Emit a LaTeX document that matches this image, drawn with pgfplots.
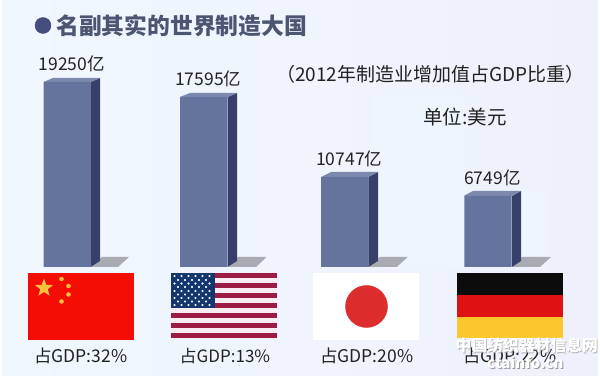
\documentclass[border=0pt]{standalone}
\usepackage{pgfplots}
\usepackage{fontspec}
\pgfplotsset{compat=1.18}
\usetikzlibrary{shapes.geometric}
\setmainfont{Noto Sans CJK SC}
\definecolor{front}{HTML}{64749E}
\definecolor{sidec}{HTML}{36406B}
\definecolor{topc}{HTML}{7C88AC}
\definecolor{shad}{HTML}{A9ABB2}
\definecolor{ttl}{HTML}{4C5672}
\definecolor{usred}{HTML}{9C1C46}
\definecolor{uswhite}{HTML}{F6ECF2}
\definecolor{usblue}{HTML}{12376F}
\definecolor{bgl}{HTML}{F0F7FE}
\definecolor{bgm}{HTML}{EBF5FE}
\definecolor{bgr}{HTML}{EEF1FC}
\definecolor{bgp}{HTML}{EFF5FD}
\definecolor{bullet}{HTML}{434E7E}
\definecolor{txt}{HTML}{222222}
\definecolor{cnred}{HTML}{F30D05}
\definecolor{cnstar}{HTML}{F8C23C}
\definecolor{jpred}{HTML}{DC2C2C}
\definecolor{deblack}{HTML}{0C0C0C}
\definecolor{dered}{HTML}{DE1212}
\definecolor{deyellow}{HTML}{FCC72C}
% bar heights as drawn in the picture (the drawn bars are not to scale with their labels)
\pgfplotstableread[col sep=comma]{
x,h,label
67.2,185,19250亿
203.8,170,17595亿
344.8,90,10747亿
487.9,71,6749亿
}\bars
\begin{document}
\begin{tikzpicture}
\begin{axis}[
  width=600pt,height=377pt,scale only axis,
  xmin=0,xmax=600,ymin=-110,ymax=267,
  hide axis,clip=false,
]
% background
\fill[white] (axis cs:0,-110) rectangle (axis cs:600,267);
\fill[left color=bgl,middle color=bgm,right color=bgr] (axis cs:2,-109) rectangle (axis cs:598,266);
\fill[bgp] (axis cs:372,172) rectangle (axis cs:465,0);
\fill[bgp] (axis cs:515,75) rectangle (axis cs:545,0);
% shadows
\addplot[fill=shad,draw=none] coordinates {(91,0)(102,10)(129,10)(118,0)} -- cycle;
\addplot[fill=shad,draw=none] coordinates {(227.5,0)(238,10)(266.5,10)(256,0)} -- cycle;
\addplot[fill=shad,draw=none] coordinates {(368,0)(380,10)(407.7,10)(396.7,0)} -- cycle;
\addplot[fill=shad,draw=none] coordinates {(512,0)(522,10)(551,10)(540,0)} -- cycle;
% sides
\addplot[fill=sidec,draw=none] coordinates {(90.7,0)(100,6)(100,189)(90.7,185)} -- cycle;
\addplot[fill=sidec,draw=none] coordinates {(227.5,0)(237,6)(237,174)(227.5,170)} -- cycle;
\addplot[fill=sidec,draw=none] coordinates {(368.3,0)(378,6)(378,95)(368.3,90)} -- cycle;
\addplot[fill=sidec,draw=none] coordinates {(512,0)(521,6)(521,76)(512,71)} -- cycle;
% tops
\addplot[fill=topc,draw=none] coordinates {(43.5,185)(53,189)(100,189)(90.7,185)} -- cycle;
\addplot[fill=topc,draw=none] coordinates {(180,170)(190,174)(237,174)(227.5,170)} -- cycle;
\addplot[fill=topc,draw=none] coordinates {(321.3,90)(331,95)(378,95)(368.3,90)} -- cycle;
\addplot[fill=topc,draw=none] coordinates {(463.7,71)(473,76)(521,76)(512,71)} -- cycle;
% bars
\addplot[ybar,bar width=47.3pt,bar shift=0pt,fill=front,draw=none,
  point meta=explicit symbolic,
  nodes near coords,
  every node near coord/.append style={font=\fontsize{17.5}{18}\selectfont,text=txt,anchor=center,xshift=4.5pt,yshift=18pt,inner sep=0pt},
] table[col sep=comma,x=x,y=h,meta=label] {\bars};
% title
\addplot[only marks,mark=*,mark size=8pt,color=bullet] coordinates {(43,241.5)};
\node[anchor=west,inner sep=0pt,text=ttl,font=\fontsize{22.8}{24}\selectfont\bfseries] at (axis cs:56,241) {名副其实的世界制造大国};
\node[anchor=west,inner sep=0pt,text=txt,font=\fontsize{19}{20}\selectfont] at (axis cs:276,193) {（2012年制造业增加值占GDP比重）};
\node[anchor=west,inner sep=0pt,text=txt,font=\fontsize{19.5}{20}\selectfont] at (axis cs:423,150) {单位:美元};
% China flag
\fill[cnred] (axis cs:27.5,-6) rectangle (axis cs:133.5,-73);
\node[star,star points=5,star point ratio=2.4,fill=cnstar,inner sep=0pt,minimum size=19pt] at (axis cs:44,-21) {};
\addplot[only marks,mark=*,mark size=2pt,color=cnstar] coordinates {(61.5,-12)(68.5,-19)(68.5,-27.5)(61.5,-34.5)};
% US flag
\fill[uswhite] (axis cs:171,-6) rectangle (axis cs:276.5,-72);
\fill[usred] (axis cs:171,-6) rectangle (axis cs:276.5,-11);
\fill[usred] (axis cs:171,-16) rectangle (axis cs:276.5,-21);
\fill[usred] (axis cs:171,-26) rectangle (axis cs:276.5,-31);
\fill[usred] (axis cs:171,-36) rectangle (axis cs:276.5,-41);
\fill[usred] (axis cs:171,-46) rectangle (axis cs:276.5,-51);
\fill[usred] (axis cs:171,-56) rectangle (axis cs:276.5,-61);
\fill[usred] (axis cs:171,-66) rectangle (axis cs:276.5,-71);
\fill[usblue] (axis cs:171,-6) rectangle (axis cs:215,-41);
\addplot[only marks,mark=*,mark size=0.9pt,color=white] coordinates {
(174.5,-9)(181.5,-9)(188.5,-9)(195.5,-9)(202.5,-9)(209.5,-9)
(178,-13)(185,-13)(192,-13)(199,-13)(206,-13)
(174.5,-16.5)(181.5,-16.5)(188.5,-16.5)(195.5,-16.5)(202.5,-16.5)(209.5,-16.5)
(178,-20)(185,-20)(192,-20)(199,-20)(206,-20)
(174.5,-24)(181.5,-24)(188.5,-24)(195.5,-24)(202.5,-24)(209.5,-24)
(178,-27.5)(185,-27.5)(192,-27.5)(199,-27.5)(206,-27.5)
(174.5,-31)(181.5,-31)(188.5,-31)(195.5,-31)(202.5,-31)(209.5,-31)
(178,-34.5)(185,-34.5)(192,-34.5)(199,-34.5)(206,-34.5)
(174.5,-38)(181.5,-38)(188.5,-38)(195.5,-38)(202.5,-38)(209.5,-38)};
% Japan flag
\fill[white] (axis cs:313,-6) rectangle (axis cs:419,-73);
\addplot[only marks,mark=*,mark size=21pt,color=jpred] coordinates {(366.5,-39.5)};
% Germany flag
\fill[deblack] (axis cs:456.5,-6) rectangle (axis cs:563,-28);
\fill[dered] (axis cs:456.5,-28) rectangle (axis cs:563,-50);
\fill[deyellow] (axis cs:456.5,-50) rectangle (axis cs:563,-71);
% bottom labels
\node[anchor=west,inner sep=0pt,text=txt,font=\fontsize{17.5}{18}\selectfont] at (axis cs:34,-89) {占GDP:32\%};
\node[anchor=west,inner sep=0pt,text=txt,font=\fontsize{17}{18}\selectfont] at (axis cs:179.5,-89) {占GDP:13\%};
\node[anchor=west,inner sep=0pt,text=txt,font=\fontsize{17.5}{18}\selectfont] at (axis cs:320,-89) {占GDP:20\%};
\node[anchor=west,inner sep=0pt,text=txt,font=\fontsize{17.5}{18}\selectfont] at (axis cs:463,-89) {占GDP:22\%};
% watermark
\node[anchor=west,inner sep=0pt,text=black!30,font=\fontsize{15.8}{16}\selectfont\bfseries] at (axis cs:456.3,-79) {中国纺织器材信息网};
\node[anchor=west,inner sep=0pt,text=white,font=\fontsize{15.8}{16}\selectfont\bfseries] at (axis cs:455.5,-78) {中国纺织器材信息网};
\node[anchor=west,inner sep=0pt,text=black!40,font=\fontsize{15}{16}\selectfont\bfseries] at (axis cs:488,-96) {ctainfo.cn};
\node[anchor=west,inner sep=0pt,text=white,font=\fontsize{15}{16}\selectfont\bfseries] at (axis cs:487,-95) {ctainfo.cn};
\end{axis}
\end{tikzpicture}
\end{document}
